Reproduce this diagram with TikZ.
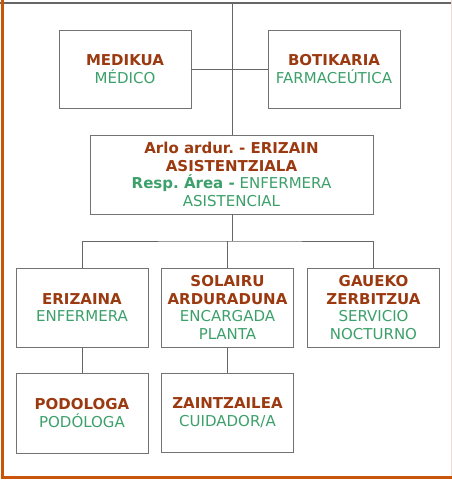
\documentclass[tikz,border=0pt]{standalone}
\usepackage{fontspec}
\setmainfont{DejaVu Sans}
\usepackage{xcolor}
\frenchspacing
\definecolor{TitleBrown}{HTML}{9B3A10}
\definecolor{SubGreen}{HTML}{3CA06A}
\definecolor{EdgeOrange}{HTML}{C8550A}
\definecolor{EdgePink}{HTML}{F0DCD2}
\colorlet{BoxGray}{black!55}
\colorlet{LineGray}{black!60}
\tikzstyle{roleBox}=[draw=BoxGray,line width=0.8pt,fill=white,minimum width=132pt,minimum height=78pt,align=center,inner sep=2pt,font=\fontsize{15}{17.8}\selectfont]
\tikzstyle{wideBox}=[roleBox,minimum width=283pt,minimum height=79pt]
\tikzstyle{orgLine}=[draw=LineGray,line width=0.8pt]
\newcommand{\ti}[1]{\textcolor{TitleBrown}{\textbf{#1}}}
\newcommand{\su}[1]{\textcolor{SubGreen}{#1}}

\begin{document}
\begin{tikzpicture}[x=1pt,y=-1pt]
    \useasboundingbox (0,0) rectangle (452,480);
    % Frame
    \coordinate (topL) at (0,3);
    \coordinate (topR) at (452,3);
    \coordinate (topM) at (232,3);
    \draw[draw=LineGray,line width=1.4pt] (topL) -- (topR);
    \draw[draw=EdgePink,line width=1pt] (451,0) -- (451,476);
    \draw[draw=EdgeOrange,line width=3pt] (2.5,0) -- (2.5,477.5) -- (452,477.5);

    % First row
    \node[roleBox] (medikua) at (125,69) {\ti{MEDIKUA}\\\su{MÉDICO}};
    \node[roleBox] (botikaria) at (334,69) {\ti{BOTIKARIA}\\\su{FARMACEÚTICA}};
	\draw[orgLine] (medikua.east) -- (botikaria.west);

    % Head nurse
    \node[wideBox] (arlo) at (231.5,174.5) {\ti{Arlo ardur. - ERIZAIN}\\\ti{ASISTENTZIALA}\\\textcolor{SubGreen}{\textbf{Resp. Área -} ENFERMERA}\\\su{ASISTENCIAL}};
	\draw[orgLine] (topM) -- (topM |- arlo.north);

    % Second row
    \node[roleBox,minimum height=79pt] (erizaina) at (82,307.5) {\ti{ERIZAINA}\\\su{ENFERMERA}};
    \node[roleBox,minimum height=79pt] (solairu) at (227.5,307.5) {\ti{SOLAIRU}\\\ti{ARDURADUNA}\\\su{ENCARGADA}\\\su{PLANTA}};
    \node[roleBox,minimum height=79pt] (gaueko) at (373.5,307.5) {\ti{GAUEKO}\\\ti{ZERBITZUA}\\\su{SERVICIO}\\\su{NOCTURNO}};
    \coordinate (bar) at (232,241);
	\draw[orgLine] (topM |- arlo.south) -- (bar);
	\draw[orgLine] (erizaina.north) |- (bar) -| (gaueko.north);
	\draw[orgLine] (solairu.north) -- (solairu.north |- bar);

    % Third row
    \node[roleBox,minimum height=80pt] (podologa) at (82,413) {\ti{PODOLOGA}\\\su{PODÓLOGA}};
    \node[roleBox,minimum height=79pt] (zaintzailea) at (227.5,412.5) {\ti{ZAINTZAILEA}\\\su{CUIDADOR/A}};
	\draw[orgLine] (erizaina.south) -- (podologa.north);
	\draw[orgLine] (solairu.south) -- (zaintzailea.north);
\end{tikzpicture}
\end{document}
